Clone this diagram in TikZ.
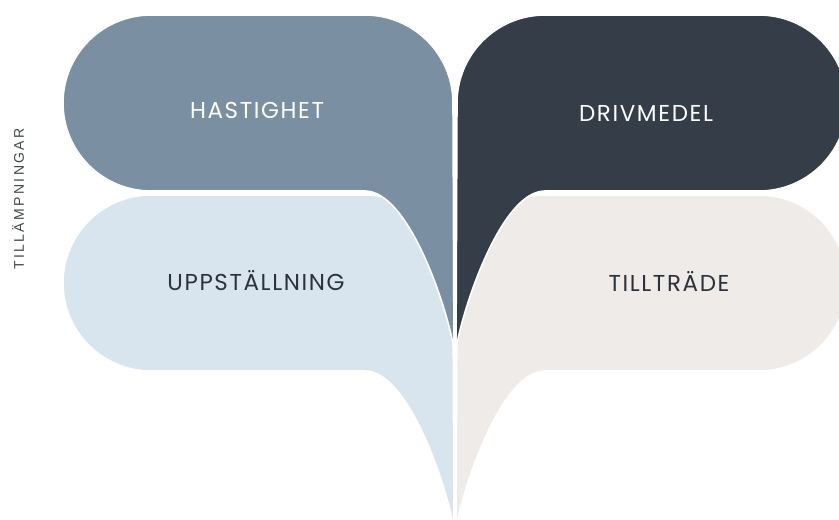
\documentclass[tikz,border=0pt]{standalone}
\usepackage{fontspec}
\newfontfamily\leaffont[LetterSpace=7]{Poppins}
\newfontfamily\sidefont[LetterSpace=17]{Liberation Sans}
\definecolor{slate}{HTML}{7B8FA3}
\definecolor{night}{HTML}{343D48}
\definecolor{mist}{HTML}{D8E5EF}
\definecolor{sand}{HTML}{EEEBE8}
\definecolor{ink}{HTML}{2B323B}

\begin{document}
\begin{tikzpicture}[x=1pt,y=1pt, line join=round, line cap=round,
	leaf/.pic={
		\path[draw=white, line width=1.6pt, fill=\pgfkeysvalueof{/tikz/leafcol}]
		(-302,0) -- (-88,0) arc[start angle=90, end angle=0, radius=88pt]
		-- (1,-338) .. controls (1,-316) and (-40,-176) .. (-88,-176)
		-- (-302,-176) arc[start angle=270, end angle=90, radius=88pt] -- cycle;
	},
	leafcol/.initial=slate,
	lbl/.style={font=\leaffont\fontsize{23}{23}\selectfont}]
	\clip (0,0) rectangle (839,520);
	% lower row first, upper row on top
	\pic[leafcol=mist] at (453,325) {leaf};
	\pic[leafcol=sand, xscale=-1] at (457,325) {leaf};
	\pic[leafcol=slate] at (453,505) {leaf};
	\pic[leafcol=night, xscale=-1] at (457,505) {leaf};
	\node[lbl, text=white] (hast) at (257,410) {HASTIGHET};
	\node[lbl, text=white] (driv) at (646,407) {DRIVMEDEL};
	\node[lbl, text=ink] (upps) at (256,239) {UPPSTÄLLNING};
	\node[lbl, text=ink] (till) at (669,239) {TILLTRÄDE};
	\node[rotate=90, text=ink!90, font=\sidefont\fontsize{14}{14}\selectfont] (side) at (18,321) {TILLÄMPNINGAR};
\end{tikzpicture}
\end{document}
